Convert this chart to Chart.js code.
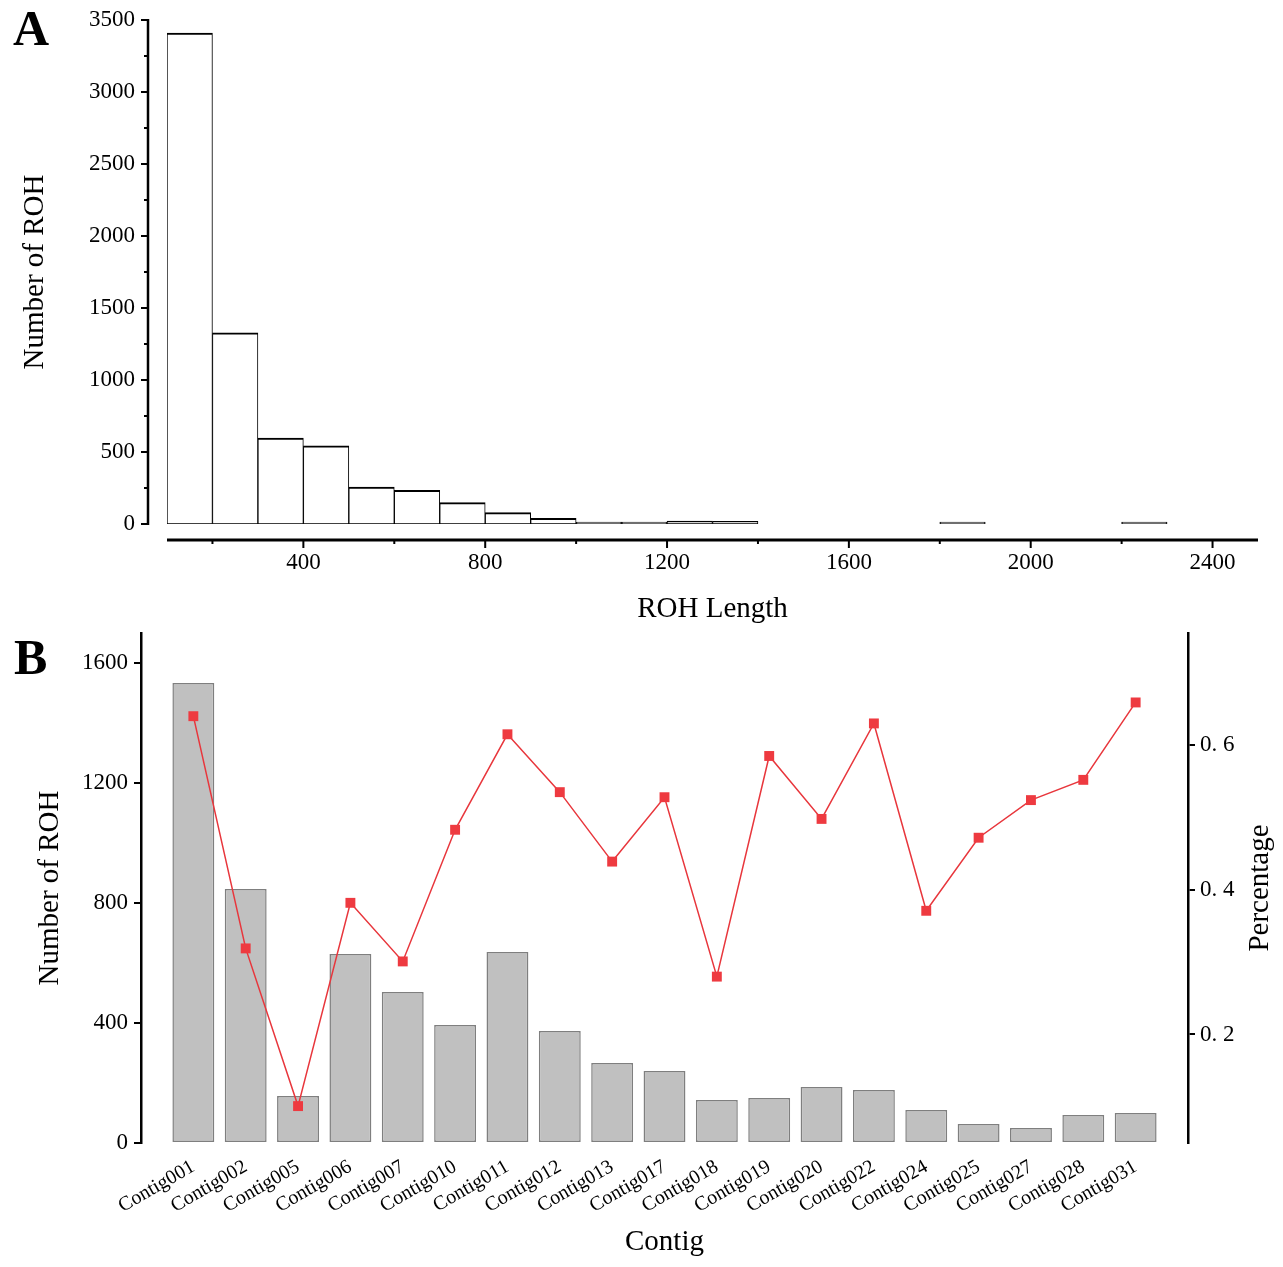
<!DOCTYPE html>
<html>
<head>
<meta charset="utf-8">
<script src="https://cdn.jsdelivr.net/npm/chart.js@4.4.1/dist/chart.umd.min.js"></script>
<style>
  html, body { margin: 0; padding: 0; background: #fff; }
  #wrap { position: relative; width: 1283px; height: 1267px; overflow: hidden; }
  .box { position: absolute; left: 0; width: 1283px; }
  #boxA { top: 0; height: 640px; }
  #boxB { top: 610px; height: 657px; }
  .panel { position: absolute; font: bold 50px 'Liberation Serif', serif; line-height: 50px; color: #000; }
</style>
</head>
<body>
<div id="wrap">
  <div class="box" id="boxA"><canvas id="chartA"></canvas></div>
  <div class="box" id="boxB"><canvas id="chartB"></canvas></div>
  <div class="panel" style="left:13px; top:3px;">A</div>
  <div class="panel" style="left:14px; top:632px;">B</div>
</div>
<script>
// panel A - ROH length histogram (bins of 100)
const binStarts = [100, 200, 300, 400, 500, 600, 700, 800, 900, 1000, 1100,
  1200, 1300, 1400, 1500, 1600, 1700, 1800, 1900, 2000, 2100, 2200];
const binCounts = [3410, 1328, 597, 542, 257, 234, 148, 79, 40, 3, 2,
  20, 18, 0, 0, 0, 0, 1, 0, 0, 0, 1];
const binWidth = 100;
const xTicksA = [400, 800, 1200, 1600, 2000, 2400];
const xMinorA = [200, 600, 1000, 1400, 1800, 2200];
const yTicksA = [0, 500, 1000, 1500, 2000, 2500, 3000, 3500];
const yMinorA = [250, 750, 1250, 1750, 2250, 2750, 3250];

// panel B - ROH per contig
const contigs = ['Contig001', 'Contig002', 'Contig005', 'Contig006', 'Contig007',
  'Contig010', 'Contig011', 'Contig012', 'Contig013', 'Contig017', 'Contig018',
  'Contig019', 'Contig020', 'Contig022', 'Contig024', 'Contig025', 'Contig027',
  'Contig028', 'Contig031'];
const rohCount = [1533, 847, 157, 630, 503, 393, 637, 373, 267, 240, 143,
  150, 187, 177, 110, 63, 50, 93, 100];
const rohPct = [0.640, 0.319, 0.101, 0.382, 0.301, 0.483, 0.615, 0.535, 0.439,
  0.528, 0.280, 0.585, 0.498, 0.630, 0.371, 0.472, 0.524, 0.552, 0.659];
const yTicksB = [0, 400, 800, 1200, 1600];
const y2TicksB = [0.2, 0.4, 0.6];

Chart.defaults.font.family = "'Liberation Serif', 'Times New Roman', serif";
Chart.defaults.color = '#000';
Chart.defaults.animation = false;
Chart.defaults.plugins.legend.display = false;
Chart.defaults.plugins.tooltip.enabled = false;

const setTicks = list => scale => { scale.ticks = list.map(v => ({ value: v })); };
const plain = v => String(v);

// Origin-style axes that sit a little away from the data
const offsetAxes = {
  id: 'offsetAxes',
  afterDraw(chart) {
    const { ctx, chartArea, scales: { x, y } } = chart;
    const ax = chartArea.left - 19;
    const ay = chartArea.bottom + 16;
    ctx.save();
    ctx.strokeStyle = '#000';
    ctx.lineCap = 'butt';

    ctx.lineWidth = 2.5;
    ctx.beginPath();
    ctx.moveTo(ax, y.getPixelForValue(yTicksA[yTicksA.length - 1]) - 1);
    ctx.lineTo(ax, y.getPixelForValue(0) + 1);
    ctx.stroke();
    ctx.lineWidth = 2;
    yTicksA.forEach(v => {
      const py = y.getPixelForValue(v);
      ctx.beginPath(); ctx.moveTo(ax - 7, py); ctx.lineTo(ax, py); ctx.stroke();
    });
    yMinorA.forEach(v => {
      const py = y.getPixelForValue(v);
      ctx.beginPath(); ctx.moveTo(ax - 4, py); ctx.lineTo(ax, py); ctx.stroke();
    });

    ctx.lineWidth = 3;
    ctx.beginPath();
    ctx.moveTo(x.getPixelForValue(x.min), ay);
    ctx.lineTo(x.getPixelForValue(x.max), ay);
    ctx.stroke();
    ctx.lineWidth = 2;
    xTicksA.forEach(v => {
      const px = x.getPixelForValue(v);
      ctx.beginPath(); ctx.moveTo(px, ay); ctx.lineTo(px, ay + 8); ctx.stroke();
    });
    xMinorA.forEach(v => {
      const px = x.getPixelForValue(v);
      ctx.beginPath(); ctx.moveTo(px, ay); ctx.lineTo(px, ay + 4); ctx.stroke();
    });
    ctx.restore();
  }
};

new Chart(document.getElementById('chartA'), {
  type: 'bar',
  data: {
    datasets: [{
      data: binStarts.map((s, i) => ({ x: s + binWidth / 2, y: binCounts[i] || null })),
      backgroundColor: '#ffffff',
      borderColor: '#000000',
      borderWidth: { top: 2, left: 1, right: 1, bottom: 1 },
      borderSkipped: false,
      minBarLength: 2,
      barPercentage: 1,
      categoryPercentage: 1,
    }],
  },
  options: {
    responsive: true,
    maintainAspectRatio: false,
    layout: { padding: { top: 20, right: 25, left: 0, bottom: 0 } },
    scales: {
      x: {
        type: 'linear',
        min: 100,
        max: 2500,
        offset: false,
        afterBuildTicks: setTicks(xTicksA),
        afterFit: s => { s.height = 116; },
        grid: { display: false, drawTicks: true, tickLength: 20 },
        border: { display: false },
        ticks: { font: { size: 23 }, padding: 5, maxRotation: 0, callback: plain },
        title: { display: true, text: 'ROH Length', font: { size: 29 }, padding: { top: 0, bottom: 13 } },
      },
      y: {
        min: 0,
        max: 3500,
        afterBuildTicks: setTicks(yTicksA),
        afterFit: s => { s.width = 167; },
        grid: { display: false, drawTicks: true, tickLength: 26 },
        border: { display: false },
        ticks: { font: { size: 23 }, padding: 6, callback: plain },
        title: { display: true, text: 'Number of ROH', font: { size: 29 }, padding: { top: 18, bottom: 0 } },
      },
    },
  },
  plugins: [offsetAxes],
});

const rightTitle = {
  id: 'rightTitle',
  afterDraw(chart) {
    const { ctx, chartArea, scales: { y2 } } = chart;
    ctx.save();
    ctx.font = "29px 'Liberation Serif', serif";
    ctx.fillStyle = '#000';
    ctx.textAlign = 'center';
    ctx.textBaseline = 'middle';
    ctx.translate(y2.right - 23, (chartArea.top + chartArea.bottom) / 2);
    ctx.rotate(-Math.PI / 2);
    ctx.fillText('Percentage', 0, 0);
    ctx.restore();
  }
};

const pad = arr => [null, ...arr, null];

new Chart(document.getElementById('chartB'), {
  type: 'bar',
  data: {
    labels: ['', ...contigs, ''],
    datasets: [
      {
        type: 'line',
        data: pad(rohPct),
        yAxisID: 'y2',
        order: 0,
        borderColor: '#e8363c',
        borderWidth: 1.5,
        tension: 0,
        pointStyle: 'rect',
        pointRadius: 7,
        pointBackgroundColor: '#ee3a40',
        pointBorderWidth: 0,
      },
      {
        data: pad(rohCount),
        yAxisID: 'y',
        order: 1,
        backgroundColor: '#c0c0c0',
        borderColor: '#7f7f7f',
        borderWidth: 1.5,
        borderSkipped: false,
        barPercentage: 0.8,
        categoryPercentage: 1,
      },
    ],
  },
  options: {
    responsive: true,
    maintainAspectRatio: false,
    layout: { padding: { top: 23, right: 0, left: 0, bottom: 0 } },
    scales: {
      x: {
        type: 'category',
        offset: false,
        afterFit: s => { s.height = 124; },
        grid: { display: false, drawTicks: false },
        border: { display: false },
        ticks: { autoSkip: false, maxRotation: 30, minRotation: 30, font: { size: 20 }, padding: 12 },
        title: { display: true, text: 'Contig', font: { size: 29 }, padding: { top: 0, bottom: 7 } },
      },
      y: {
        position: 'left',
        min: 0,
        max: 1700,
        afterBuildTicks: setTicks(yTicksB),
        afterFit: s => { s.width = 141; },
        grid: { drawOnChartArea: false, drawTicks: true, tickLength: 7, color: '#000', lineWidth: 2 },
        border: { display: true, color: '#000', width: 2.5 },
        ticks: { font: { size: 23 }, padding: 6, callback: plain },
        title: { display: true, text: 'Number of ROH', font: { size: 29 }, padding: { top: 33, bottom: 0 } },
      },
      y2: {
        position: 'right',
        min: 0.05,
        max: 0.755,
        afterBuildTicks: setTicks(y2TicksB),
        afterFit: s => { s.width = 95; },
        grid: { drawOnChartArea: false, drawTicks: true, tickLength: 7, color: '#000', lineWidth: 2 },
        border: { display: true, color: '#000', width: 2.5 },
        ticks: { font: { size: 23 }, padding: 5, callback: v => v.toFixed(1).replace('.', '. ') },
      },
    },
  },
  plugins: [rightTitle],
});
</script>
</body>
</html>
